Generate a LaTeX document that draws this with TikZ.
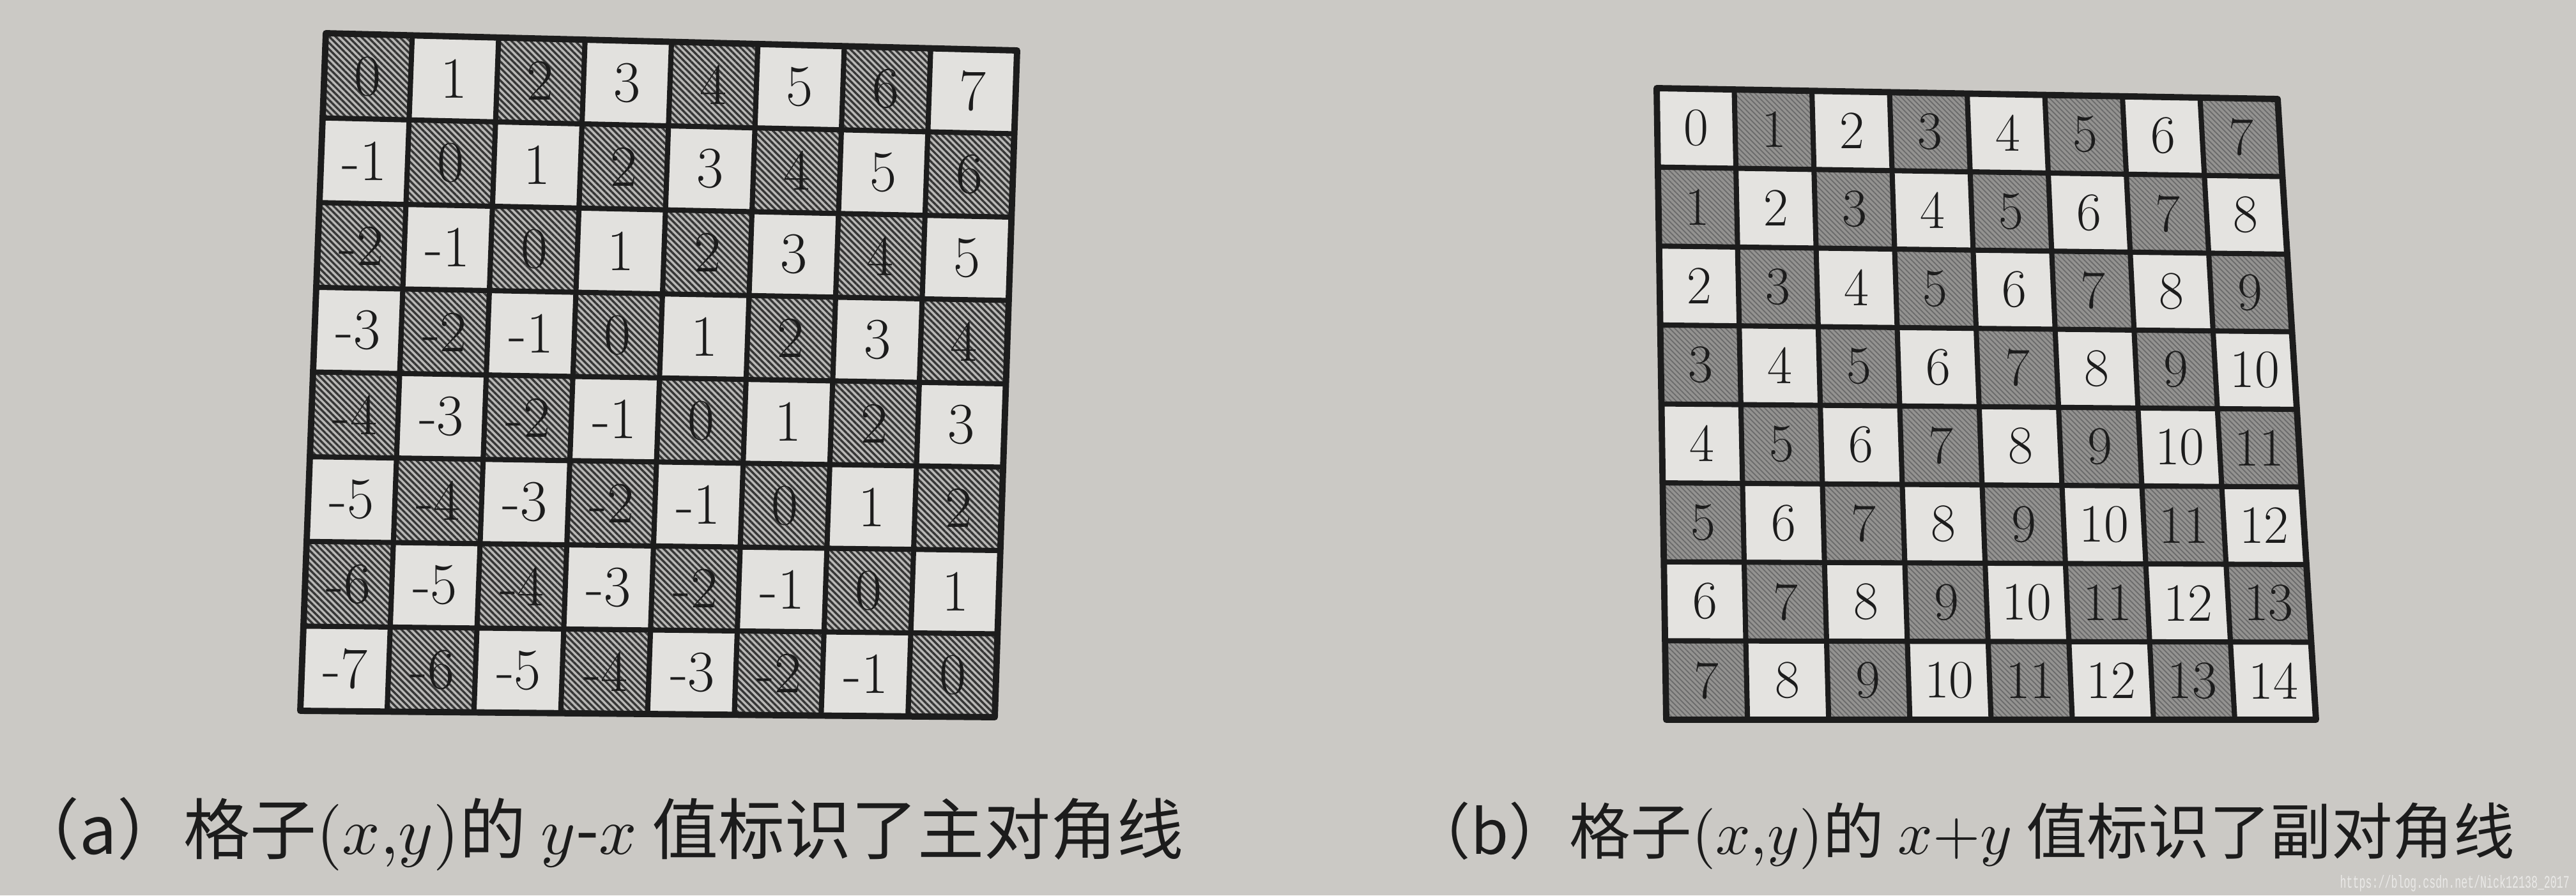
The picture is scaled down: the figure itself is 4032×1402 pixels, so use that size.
\documentclass[tikz,border=0pt]{standalone}
\usepackage{fontspec}
\usepackage{graphicx}
\newfontfamily\cjk{Noto Sans CJK SC}
\newfontfamily\wmfont{Liberation Mono}
\usetikzlibrary{calc,patterns.meta}
\definecolor{paper}{HTML}{CBC9C5}
\definecolor{lwhitec}{HTML}{E2E1DE}
\definecolor{rwhitec}{HTML}{E4E3E0}
\definecolor{lbase}{HTML}{B8B7B5}
\definecolor{lline}{HTML}{363636}
\definecolor{rbase}{HTML}{939290}
\definecolor{rline}{HTML}{6A6A6A}
\definecolor{ink}{HTML}{1C1C1C}
\tikzset{
  lshade/.style={preaction={fill=lbase}, pattern={Lines[angle=-45,distance=2pt,line width=0.95pt]}, pattern color=lline},
  rshade/.style={preaction={fill=rbase}, pattern={Lines[angle=-45,distance=1.6pt,line width=0.5pt]}, pattern color=rline},
  lwhite/.style={fill=lwhitec},
  rwhite/.style={fill=rwhitec},
  lnum/.style={inner sep=0pt, text=ink, font=\fontsize{26}{26}\selectfont},
  rnum/.style={inner sep=0pt, text=ink, font=\fontsize{24}{24}\selectfont},
  gridline/.style={draw=ink, line width=2.3pt},
  border/.style={draw=ink, line width=2.8pt, line join=round},
  capnode/.style={inner sep=0pt, text=ink},
}
\begin{document}
\begin{tikzpicture}[x=0.01cm,y=-0.01cm]
\useasboundingbox (0,0) rectangle (4032,1402);
\fill[paper] (0,0) rectangle (4032,1402);
% grid corners
\coordinate (LTL) at (510,52);
\coordinate (LTR) at (1592,79);
\coordinate (LBL) at (470,1113);
\coordinate (LBR) at (1557,1123);
\coordinate (RTL) at (2593,138);
\coordinate (RTR) at (3565,155);
\coordinate (RBL) at (2608,1127);
\coordinate (RBR) at (3625,1127);
\foreach \i in {0,...,8}{\foreach \j in {0,...,8}{
  \pgfmathsetmacro\u{\i/8}\pgfmathsetmacro\v{\j/8}
  \coordinate (L-\i-\j) at ($ ($(LTL)!\u!(LTR)$)!\v!($(LBL)!\u!(LBR)$) $);
  \coordinate (R-\i-\j) at ($ ($(RTL)!\u!(RTR)$)!\v!($(RBL)!\u!(RBR)$) $);
}}
\foreach \i in {0,...,7}{\foreach \j in {0,...,7}{
  \pgfmathtruncatemacro\ii{\i+1}\pgfmathtruncatemacro\jj{\j+1}
  \pgfmathtruncatemacro\a{\i-\j}\pgfmathtruncatemacro\b{\i+\j}
  \pgfmathtruncatemacro\pa{mod(\i+\j,2)}
  \ifnum\pa=0 \def\lsty{lshade}\def\rsty{rwhite}\else\def\lsty{lwhite}\def\rsty{rshade}\fi
  \path[\lsty] (L-\i-\j) -- (L-\ii-\j) -- (L-\ii-\jj) -- (L-\i-\jj) -- cycle;
  \path[\rsty] (R-\i-\j) -- (R-\ii-\j) -- (R-\ii-\jj) -- (R-\i-\jj) -- cycle;
  \node[lnum] (la-\i-\j) at ($(L-\i-\j)!0.5!(L-\ii-\jj)$) {\a};
  \node[rnum] (rb-\i-\j) at ($(R-\i-\j)!0.5!(R-\ii-\jj)$) {\b};
}}
\foreach \k in {1,...,7}{
  \draw[gridline] (L-\k-0) -- (L-\k-8);
  \draw[gridline] (L-0-\k) -- (L-8-\k);
  \draw[gridline] (R-\k-0) -- (R-\k-8);
  \draw[gridline] (R-0-\k) -- (R-8-\k);
}
\draw[border] (L-0-0) -- (L-8-0) -- (L-8-8) -- (L-0-8) -- cycle;
\draw[border] (R-0-0) -- (R-8-0) -- (R-8-8) -- (R-0-8) -- cycle;
% captions
\node[capnode, anchor=base west] (capa) at (20,1337)
  {\resizebox{18.3cm}{!}{\cjk （a）格子$(x{,}y)$的 $y$-$x$ 值标识了主对角线}};
\node[capnode, anchor=base west] (capb) at (2206,1337)
  {\resizebox{17.28cm}{!}{\cjk （b）格子$(x{,}y)$的 $x{+}y$ 值标识了副对角线}};
\node[inner sep=0pt, anchor=base west, text=white, opacity=0.6] (wm) at (3662,1390)
  {\resizebox{3.59cm}{0.2cm}{\wmfont https://blog.csdn.net/Nick12138\_2017}};
\end{tikzpicture}
\end{document}
